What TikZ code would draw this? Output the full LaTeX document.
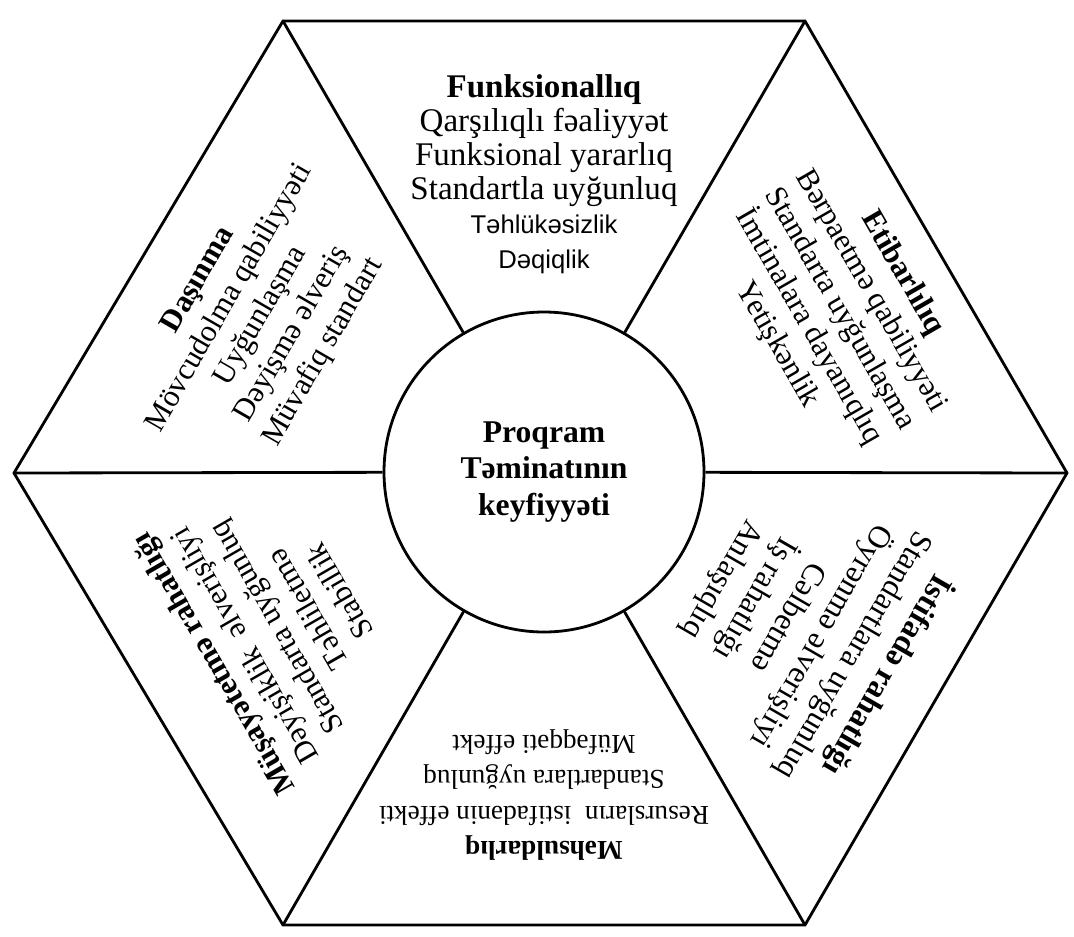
\documentclass[tikz,border=0pt]{standalone}
\usepackage{fontspec}
\setmainfont{Liberation Serif}
\newfontfamily\plainsans{Liberation Sans}
\tikzset{
  edge/.style={line width=1.6pt, line join=miter},
  sector/.style={align=center, inner sep=0pt},
}

\begin{document}
\begin{tikzpicture}
    \useasboundingbox (-10.88,-9.26) rectangle (10.6,9.46);
    % corners of the hexagon
    \coordinate (v1) at (-5.22,9.04);
    \coordinate (v2) at (5.22,9.04);
    \coordinate (v3) at (10.46,0);
    \coordinate (v4) at (5.22,-9.04);
    \coordinate (v5) at (-5.22,-9.04);
    \coordinate (v6) at (-10.6,0);
    \draw[edge] (v1) -- (v2) -- (v3) -- (v4) -- (v5) -- (v6) -- cycle;

    \node[circle, draw, line width=1.6pt, minimum size=6.4cm, align=center,
          font=\bfseries\fontsize{18}{21}\selectfont] (core) at (0,0.02) {Proqram\\Təminatının\\keyfiyyəti};
    % spokes from the circle to the corners
    \draw[edge] (core) -- (v1);
    \draw[edge] (core) -- (v2);
    \draw[edge] (core) -- (v3);
    \draw[edge] (core) -- (v4);
    \draw[edge] (core) -- (v5);
    \draw[edge] (core) -- (v6);

    % the six characteristics
    \node[sector, font=\fontsize{18.8}{19.4}\selectfont] (funk) at (90:5.98) {\textbf{Funksionallıq}\\Qarşılıqlı fəaliyyət\\Funksional yararlıq\\Standartla uyğunluq\\{\plainsans\fontsize{14.6}{19.4}\selectfont Təhlükəsizlik}\\{\plainsans\fontsize{14.6}{19.4}\selectfont Dəqiqlik}};
    \node[sector, rotate=-60, font=\fontsize{17.6}{20.5}\selectfont] (etib) at (29:6.76) {\textbf{Etibarlılıq}\\Bərpaetmə qabiliyyəti\\Standarta uyğunlaşma\\İmtinalara dayanıqlıq\\Yetişkənlik};
    \node[sector, rotate=60, font=\fontsize{17.5}{20.5}\selectfont] (dasin) at (151:6.46) {\textbf{Daşınma}\\Mövcudolma qabiliyyəti\\Uyğunlaşma\\Dəyişmə əlveriş\\Müvafiq standart};
    \node[sector, rotate=-120, font=\fontsize{18}{21.6}\selectfont] (istif) at (-30.6:6.08) {\textbf{İstifadə rahatlığı}\\Standartlara uyğunluq\\Öyrənmə əlverişliyi\\Cəlbetmə\\İş rahatlığı\\Anlaşıqlıq};
    \node[sector, rotate=180, font=\fontsize{15.5}{20}\selectfont] (mehs) at (-90:6.44) {\textbf{Məhsuldarlıq}\\Resursların\ \ istifadənin effekti\\Standartlara uyğunluq\\Müfəqqəti effekt};
    \node[sector, rotate=120, font=\fontsize{17.5}{20.8}\selectfont] (musay) at (210:6.2) {\textbf{Müşayətetmə rahatlığı}\\Dəyişiklik\ \ əlverişliyi\\Standarta uyğunluq\\Təhliletmə\\Stabillik};
\end{tikzpicture}
\end{document}
